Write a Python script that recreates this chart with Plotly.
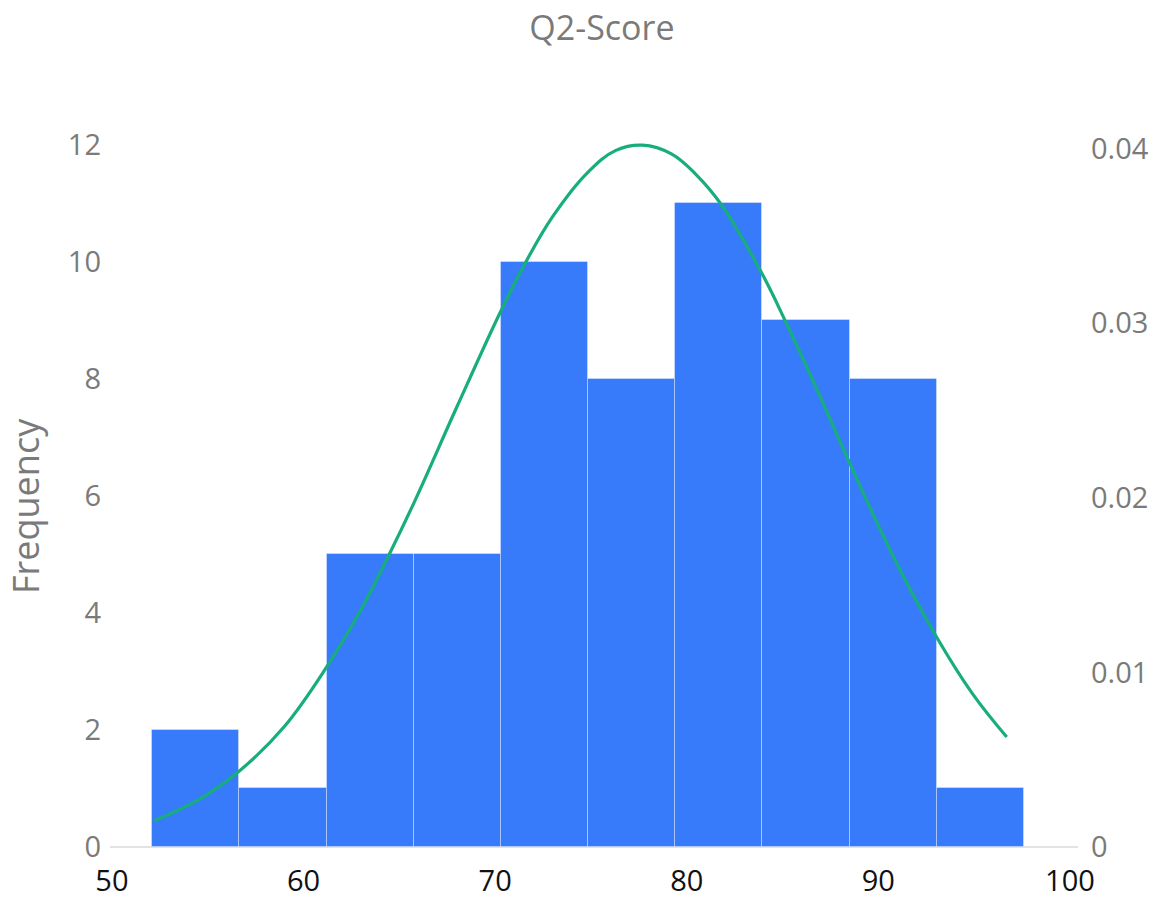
import plotly.graph_objects as go

# Histogram bins
bin_edges = [52.1, 56.65, 61.2, 65.75, 70.3, 74.85, 79.4, 83.95, 88.5, 93.05, 97.6]
counts = [2, 1, 5, 5, 10, 8, 11, 9, 8, 1]

# Fitted density curve
curve_x = [52.2, 54.5, 56.7, 59.0, 61.2, 63.0, 64.4, 65.8, 68.0, 70.3, 71.5, 73.0,
           74.8, 76.3, 77.7, 79.2, 80.5, 81.8, 83.9, 85.2, 86.8, 88.5, 90.8, 93.0,
           94.9, 96.7]
curve_y = [0.0015, 0.0027, 0.0044, 0.0069, 0.0103, 0.0136, 0.0166, 0.0198, 0.0252,
           0.0307, 0.0333, 0.0361, 0.0386, 0.0399, 0.0402, 0.0397, 0.0385, 0.0368,
           0.0329, 0.0300, 0.0262, 0.0220, 0.0166, 0.0121, 0.0088, 0.0063]

x_ticks = [50, 60, 70, 80, 90, 100]
y_left_ticks = [0, 2, 4, 6, 8, 10, 12]
y_right_ticks = [0, 0.01, 0.02, 0.03, 0.04]
y_right_labels = ["0", "0.01", "0.02", "0.03", "0.04"]

centers = [(a + b) / 2 for a, b in zip(bin_edges[:-1], bin_edges[1:])]
widths = [b - a for a, b in zip(bin_edges[:-1], bin_edges[1:])]

fig = go.Figure()
fig.add_trace(go.Bar(
    x=centers, y=counts, width=widths,
    marker=dict(color="#387bfa", line=dict(color="rgba(255,255,255,0.35)", width=1)),
    showlegend=False, hoverinfo="x+y",
))
fig.add_trace(go.Scatter(
    x=curve_x, y=curve_y, yaxis="y2", mode="lines",
    line=dict(color="#18ad7d", width=3.2, shape="spline", smoothing=1.1),
    showlegend=False,
))

tick_font_grey = dict(family="Open Sans, sans-serif", size=29, color="#7a7a7a")

fig.update_layout(
    width=1150, height=892,
    margin=dict(l=102, r=80, t=90, b=53, autoexpand=False),
    paper_bgcolor="white", plot_bgcolor="white",
    title=dict(text="Q2-Score", x=0.5165, xanchor="center", y=0.978, yanchor="middle",
               yref="container",
               font=dict(family="Open Sans, sans-serif", size=34, color="#7a7a7a")),
    bargap=0,
    xaxis=dict(range=[49.9, 100.42], tickvals=x_ticks, showgrid=False, zeroline=False,
               showline=False, ticks="", ticklabelstandoff=14, automargin=False,
               tickfont=dict(family="Open Sans, sans-serif", size=29, color="#111111")),
    yaxis=dict(range=[0, 12.8], tickvals=y_left_ticks, showgrid=False,
               zeroline=True, zerolinecolor="#e3e3e3", zerolinewidth=2, automargin=False,
               showline=False, ticks="", ticklabelstandoff=8, tickfont=tick_font_grey),
    yaxis2=dict(range=[0, 0.0429], tickvals=y_right_ticks, ticktext=y_right_labels,
                overlaying="y", side="right", showgrid=False, zeroline=False,
                automargin=False,
                showline=False, ticks="", ticklabelstandoff=12, tickfont=tick_font_grey),
    annotations=[dict(text="Frequency", xref="paper", yref="paper", x=-0.088, y=0.455,
                      xanchor="center", yanchor="middle", textangle=-90, showarrow=False,
                      font=dict(family="Open Sans, sans-serif", size=36, color="#7a7a7a"))],
)

fig.write_html("out.html")
